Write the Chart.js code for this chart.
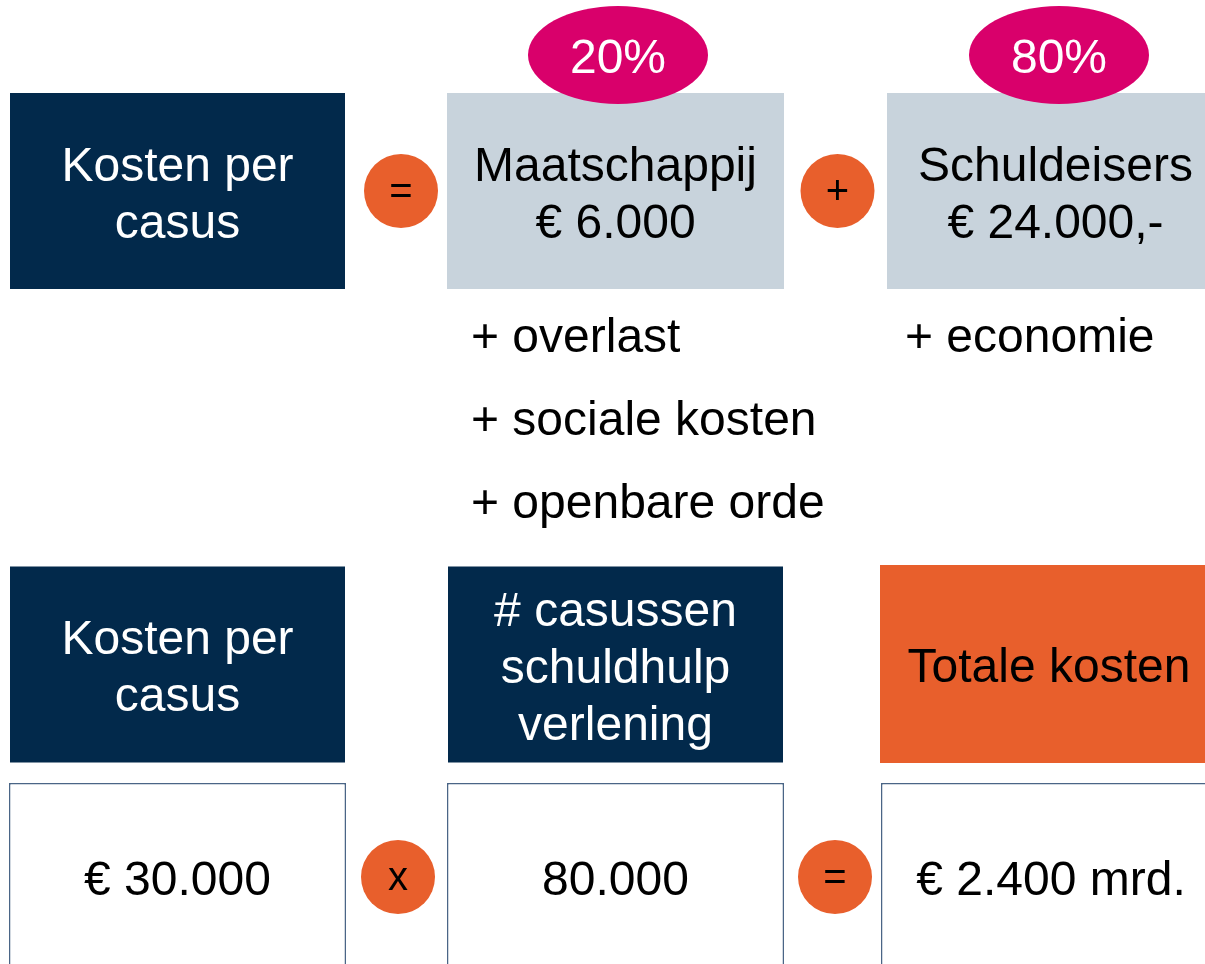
<!DOCTYPE html>
<html>
<head>
<meta charset="utf-8">
<script src="https://cdn.jsdelivr.net/npm/chart.js@4/dist/chart.umd.min.js"></script>
<style>
  html, body { margin: 0; padding: 0; background: #ffffff; overflow: hidden; }
  canvas { display: block; }
</style>
</head>
<body>
<canvas id="c" width="1205" height="964"></canvas>
<script>
// ---------- data ----------
const shareLabels = ['20%', '80%'];
const costCarriers = ['Maatschappij', 'Schuldeisers'];
const costAmounts = ['€ 6.000', '€ 24.000,-'];
const costTitle = ['Kosten per', 'casus'];
const extrasSociety = ['+ overlast', '+ sociale kosten', '+ openbare orde'];
const extrasCreditors = ['+ economie'];
const formulaHeaders = [['Kosten per', 'casus'], ['# casussen', 'schuldhulp', 'verlening'], ['Totale kosten']];
const formulaValues = ['€ 30.000', '80.000', '€ 2.400 mrd.'];
const topOperators = ['=', '+'];
const bottomOperators = ['x', '='];

// ---------- layout (diagram units = pixels of the reference) ----------
const L = {
  cols: [[10, 345], [447, 784], [887, 1224]],
  colsLow: [[10, 345], [448, 783], [880, 1218]],
  colsVal: [[9, 346], [447, 784], [881, 1221]],
  row1: 191, row2: 664.5, row3: 881, row3Text: 877,
  boxH: 196,
  ellipseY: 55, ellipseX: [618, 1059],
  opTop: [[401, 191], [837.5, 191]],
  opBottom: [[398, 877], [835, 877]],
  extrasX: [471, 905], extrasY: [352, 435, 518],
  lineH: 57
};
const NAVY = '#02294b', GREY = '#c8d3dc', ORANGE = '#e85f2c', PINK = '#d9006b', BORDER = '#4a6586';
const FONT = '"Liberation Sans", Arial, Helvetica, sans-serif';

const mid = r => (r[0] + r[1]) / 2;

// ellipse point style
const ell = document.createElement('canvas');
ell.width = 180; ell.height = 98;
(function () {
  const g = ell.getContext('2d');
  g.fillStyle = PINK;
  g.beginPath();
  g.ellipse(90, 49, 90, 49, 0, 0, Math.PI * 2);
  g.fill();
})();

const barBase = { type: 'bar', indexAxis: 'y', grouped: false, barThickness: L.boxH, borderSkipped: false, inflateAmount: 0, order: 2 };

const datasets = [
  Object.assign({}, barBase, {
    label: 'navy',
    data: [
      { x: L.cols[0], y: L.row1 },
      { x: L.colsLow[0], y: L.row2 },
      { x: L.colsLow[1], y: L.row2 }
    ],
    backgroundColor: NAVY, borderWidth: 0
  }),
  Object.assign({}, barBase, {
    label: 'grey',
    data: [{ x: L.cols[1], y: L.row1 }, { x: L.cols[2], y: L.row1 }],
    backgroundColor: GREY, borderWidth: 0
  }),
  Object.assign({}, barBase, {
    label: 'orange',
    barThickness: 198,
    data: [{ x: L.colsLow[2], y: 664 }],
    backgroundColor: ORANGE, borderWidth: 0
  }),
  Object.assign({}, barBase, {
    label: 'values',
    data: L.colsVal.map(c => ({ x: c, y: L.row3 })),
    backgroundColor: '#ffffff', borderColor: BORDER, borderWidth: 1.5
  }),
  {
    type: 'scatter', label: 'operators', order: 0,
    data: L.opTop.concat(L.opBottom).map(p => ({ x: p[0], y: p[1] })),
    pointRadius: 37, pointHoverRadius: 37, backgroundColor: ORANGE, borderWidth: 0
  },
  {
    type: 'scatter', label: 'shares', order: 0,
    data: L.ellipseX.map(x => ({ x: x, y: L.ellipseY })),
    pointStyle: ell, pointRadius: 10, pointHoverRadius: 10
  }
];

const textPlugin = {
  id: 'texts',
  afterDatasetsDraw(chart) {
    const ctx = chart.ctx, X = chart.scales.x, Y = chart.scales.y;
    const px = v => X.getPixelForValue(v), py = v => Y.getPixelForValue(v);
    function lines(arr, cx, cy, color, size) {
      ctx.save();
      ctx.fillStyle = color;
      ctx.font = size + 'px ' + FONT;
      ctx.textAlign = 'center';
      ctx.textBaseline = 'alphabetic';
      const n = arr.length;
      arr.forEach((t, i) => {
        const yc = cy + (i - (n - 1) / 2) * L.lineH;
        ctx.fillText(t, px(cx), py(yc + size * 0.375));
      });
      ctx.restore();
    }
    function left(t, x, y, color, size) {
      ctx.save();
      ctx.fillStyle = color;
      ctx.font = size + 'px ' + FONT;
      ctx.textAlign = 'left';
      ctx.textBaseline = 'alphabetic';
      ctx.fillText(t, px(x), py(y));
      ctx.restore();
    }
    // row 1
    lines(costTitle, mid(L.cols[0]), L.row1, '#ffffff', 48);
    lines([costCarriers[0], costAmounts[0]], mid(L.cols[1]), L.row1, '#000000', 48);
    lines([costCarriers[1], costAmounts[1]], mid(L.cols[2]), L.row1, '#000000', 48);
    shareLabels.forEach((s, i) => lines([s], L.ellipseX[i], L.ellipseY, '#ffffff', 48));
    topOperators.forEach((o, i) => lines([o], L.opTop[i][0], L.opTop[i][1] - 2, '#000000', 40));
    // extras
    extrasSociety.forEach((t, i) => left(t, L.extrasX[0], L.extrasY[i], '#000000', 48));
    extrasCreditors.forEach((t, i) => left(t, L.extrasX[1], L.extrasY[i], '#000000', 48));
    // row 2
    lines(formulaHeaders[0], mid(L.colsLow[0]), L.row2, '#ffffff', 48);
    lines(formulaHeaders[1], mid(L.colsLow[1]), L.row2, '#ffffff', 48);
    lines(formulaHeaders[2], mid(L.colsLow[2]), 664, '#000000', 48);
    // row 3
    formulaValues.forEach((v, i) => lines([v], mid(L.colsVal[i]), L.row3Text, '#000000', 48));
    bottomOperators.forEach((o, i) => lines([o], L.opBottom[i][0], L.opBottom[i][1] - 2, '#000000', 40));
  }
};

new Chart(document.getElementById('c'), {
  type: 'bar',
  data: { datasets: datasets },
  options: {
    responsive: false,
    animation: false,
    events: [],
    layout: { padding: 0, autoPadding: false },
    plugins: { legend: { display: false }, tooltip: { enabled: false } },
    scales: {
      x: { type: 'linear', min: 0, max: 1205, display: false, offset: false, grace: 0 },
      y: { type: 'linear', min: 0, max: 964, reverse: true, display: false, offset: false, grace: 0 }
    }
  },
  plugins: [textPlugin]
});
</script>
</body>
</html>
